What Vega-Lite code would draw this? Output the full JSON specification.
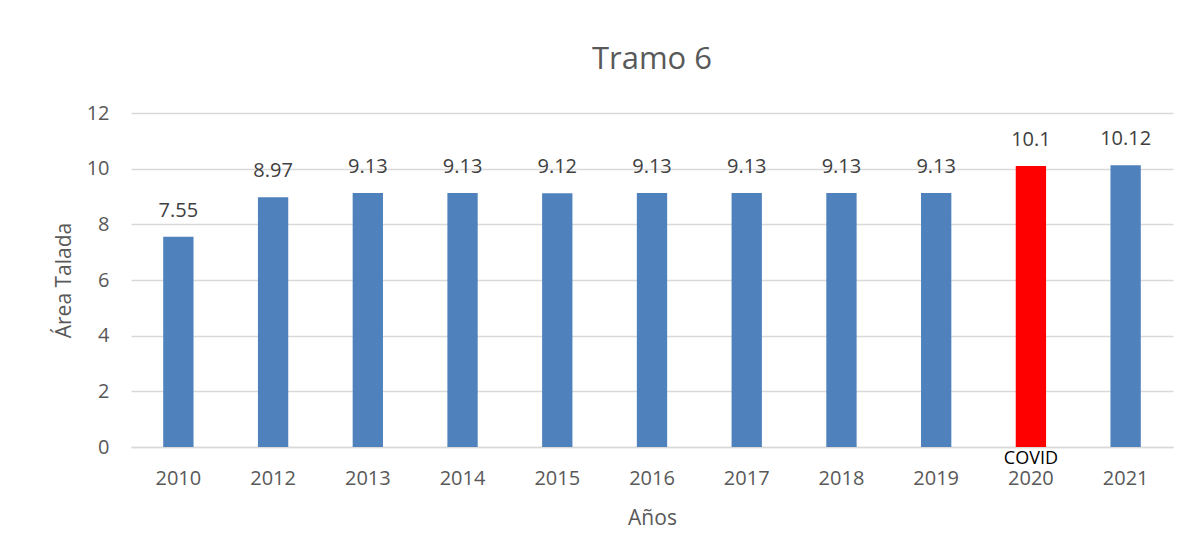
{
  "$schema": "https://vega.github.io/schema/vega-lite/v6.json",
  "autosize": "none",
  "width": 1042,
  "height": 334,
  "padding": {"left": 131, "top": 113, "right": 14, "bottom": 109},
  "background": "white",
  "title": {"text": "Tramo 6", "fontSize": 31, "font": "Open Sans", "fontWeight": "normal", "color": "#595959", "offset": 27, "anchor": "middle"},
  "data": {"values": [
    {"year": "2010", "value": 7.55, "label": "7.55", "note": ""},
    {"year": "2012", "value": 8.97, "label": "8.97", "note": ""},
    {"year": "2013", "value": 9.13, "label": "9.13", "note": ""},
    {"year": "2014", "value": 9.13, "label": "9.13", "note": ""},
    {"year": "2015", "value": 9.12, "label": "9.12", "note": ""},
    {"year": "2016", "value": 9.13, "label": "9.13", "note": ""},
    {"year": "2017", "value": 9.13, "label": "9.13", "note": ""},
    {"year": "2018", "value": 9.13, "label": "9.13", "note": ""},
    {"year": "2019", "value": 9.13, "label": "9.13", "note": ""},
    {"year": "2020", "value": 10.1, "label": "10.1", "note": "COVID"},
    {"year": "2021", "value": 10.12, "label": "10.12", "note": ""}
  ]},
  "encoding": {
    "x": {"field": "year", "type": "nominal", "sort": null,
      "scale": {"paddingInner": 0, "paddingOuter": 0},
      "axis": {"title": "Años", "labelAngle": 0, "labelFontSize": 20, "labelColor": "#595959", "labelFont": "Open Sans",
        "titleFontSize": 21, "titleColor": "#595959", "titleFont": "Open Sans", "titleFontWeight": "normal", "titlePadding": 19,
        "ticks": false, "labelPadding": 21, "domainColor": "#d9d9d9", "domainWidth": 1.5, "grid": false}},
    "y": {"field": "value", "type": "quantitative",
      "scale": {"domain": [0, 12], "nice": false},
      "axis": {"title": "Área Talada", "values": [0, 2, 4, 6, 8, 10, 12], "labelFontSize": 20, "labelColor": "#595959", "labelFont": "Open Sans",
        "titleFontSize": 21, "titleColor": "#595959", "titleFont": "Open Sans", "titleFontWeight": "normal", "titlePadding": 12,
        "ticks": false, "domain": false, "labelPadding": 22, "gridColor": "#d9d9d9", "gridWidth": 1.5}}
  },
  "layer": [
    {"mark": {"type": "bar", "width": {"band": 0.32}},
     "encoding": {"color": {"condition": {"test": "datum.year === '2020'", "value": "#ff0000"}, "value": "#4f81bd"}}},
    {"mark": {"type": "text", "baseline": "middle", "dy": -26, "fontSize": 20, "font": "Open Sans", "color": "#404040"},
     "encoding": {"text": {"field": "label"}}},
    {"mark": {"type": "text", "fontSize": 18, "font": "Open Sans", "color": "#000000", "baseline": "middle", "dy": 12},
     "encoding": {"y": {"datum": 0}, "text": {"field": "note"}}}
  ],
  "config": {"view": {"stroke": null}}
}
